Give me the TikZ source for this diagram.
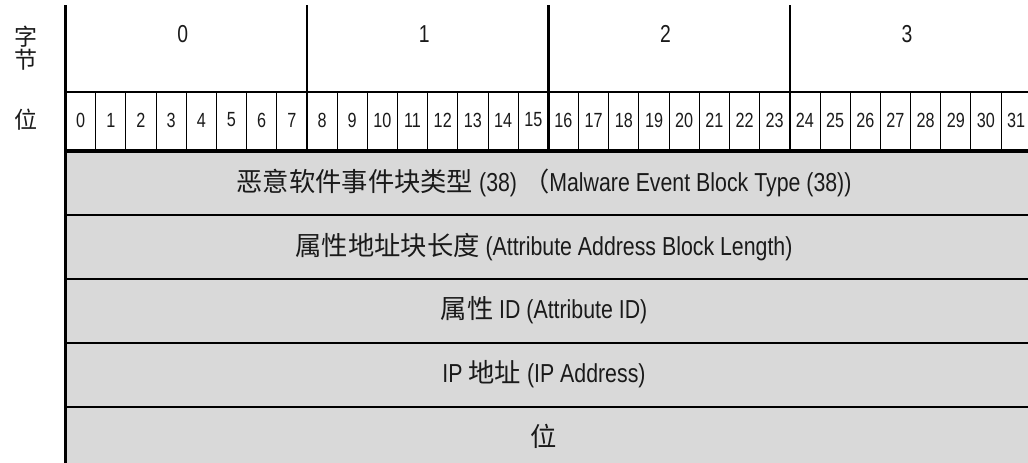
\documentclass[tikz,border=0pt]{standalone}
\usepackage{fontspec}
\setmainfont{Liberation Sans}[FakeStretch=0.79]
\newfontfamily\rowfont{Liberation Sans}[FakeStretch=0.82]
\newfontfamily\cjk{Noto Sans CJK SC}
\definecolor{rowgray}{HTML}{D9D9D9}
\definecolor{txt}{HTML}{1A1A1A}
\begin{document}
\begin{tikzpicture}[x=1pt,y=-1pt,
  bitlbl/.style={text=txt,font=\fontsize{20.5}{22}\selectfont,inner sep=0pt,anchor=center},
  bytelbl/.style={text=txt,font=\fontsize{24.5}{26}\selectfont,inner sep=0pt,anchor=center},
  sidelbl/.style={text=txt,font=\cjk\fontsize{23}{23}\selectfont,inner sep=0pt,anchor=center,align=center},
  rowlbl/.style={text=txt,font=\rowfont\fontsize{26}{28}\selectfont,inner sep=0pt,anchor=center},
  thinline/.style={line width=1pt,black},
  midline/.style={line width=2pt,black},
  frameline/.style={line width=2.5pt,black},
  heavyline/.style={line width=4pt,black}]
\useasboundingbox (0,0) rectangle (1028,463);
\def\L{65.5}\def\W{30.18}
\newcommand\zh[1]{{\cjk\fontsize{26.3}{28}\selectfont #1}}
% coordinates
\coordinate (tl) at (\L,5);
\coordinate (bl) at (\L,463);
\coordinate (hl) at (\L,92);
\coordinate (hr) at (1031.3,92);
\coordinate (kl) at (\L,151);
\coordinate (kr) at (1031.3,151);
% gray body
\fill[rowgray] (\L,151) rectangle (1031.3,463);
% row dividers
\foreach \y/\n in {215/a,279/b,343/c,407/d}{
  \coordinate (r\n l) at (\L,\y);
  \coordinate (r\n r) at (1031.3,\y);
  \draw[midline] (r\n l) -- (r\n r);
}
% bit dividers
\foreach \i in {1,...,31}{
  \pgfmathsetmacro{\xx}{\L+\i*\W}
  \coordinate (bt\i) at (\xx,92);
  \coordinate (bb\i) at (\xx,151);
  \draw[thinline] (bt\i) -- (bb\i);
}
% byte dividers
\foreach \j in {1,2,3}{
  \pgfmathsetmacro{\xx}{\L+\j*8*\W}
  \coordinate (yt\j) at (\xx,5);
  \coordinate (yb\j) at (\xx,151);
  \draw[frameline] (yt\j) -- (yb\j);
}
\draw[midline] (hl) -- (hr);
\draw[heavyline] (kl) -- (kr);
\draw[frameline] (tl) -- (bl);
% side labels
\node[sidelbl] (zijie) at (26,48) {字\\节};
\node[sidelbl] (wei) at (26,120) {位};
% byte labels
\foreach \j in {0,...,3}{
  \pgfmathsetmacro{\xx}{\L+(\j+0.5)*8*\W-3.5}
  \node[bytelbl] (byte\j) at (\xx,34) {\j};
}
% bit labels
\foreach \i in {0,...,31}{
  \pgfmathsetmacro{\xx}{\L+(\i+0.5)*\W}
  \node[bitlbl] (bit\i) at (\xx,120) {\i};
}
% row labels
\node[rowlbl] (row1) at (544,183) {\zh{恶意软件事件块类型} (38) \zh{（}Malware Event Block Type (38))};
\node[rowlbl] (row2) at (544,247) {\zh{属性地址块长度} (Attribute Address Block Length)};
\node[rowlbl] (row3) at (544,310) {\zh{属性} ID (Attribute ID)};
\node[rowlbl] (row4) at (544,374) {IP \zh{地址} (IP Address)};
\node[rowlbl] (row5) at (544,436) {\zh{位}};
\end{tikzpicture}
\end{document}
